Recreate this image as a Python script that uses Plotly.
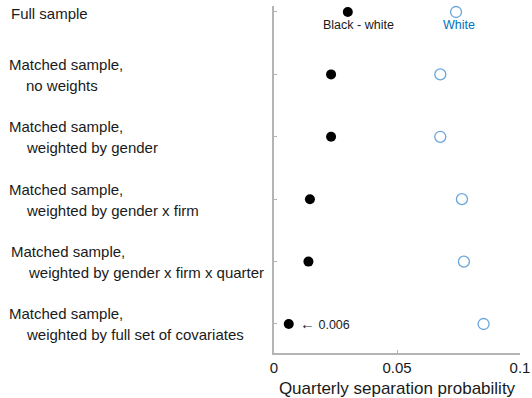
import plotly.graph_objects as go

row_line1 = ["Full sample", "Matched sample,", "Matched sample,", "Matched sample,",
             "Matched sample,", "Matched sample,"]
row_line2 = ["", "no weights", "weighted by gender", "weighted by gender x firm",
             "weighted by gender x firm x quarter", "weighted by full set of covariates"]
black_white = [0.030, 0.0232, 0.0232, 0.0146, 0.0140, 0.006]
white = [0.0740, 0.0676, 0.0676, 0.0764, 0.0772, 0.0852]
x_ticks = [0, 0.05, 0.1]
x_tick_labels = ["0", "0.05", "0.1"]

rows = list(range(len(row_line1)))
FONT = "Liberation Sans, Arial, Helvetica, sans-serif"
AX = "#b4b4b4"

fig = go.Figure()
fig.add_trace(go.Scatter(
    x=black_white, y=rows, mode="markers",
    marker=dict(symbol="circle", size=10, color="black", line=dict(width=0)),
    showlegend=False, hoverinfo="skip", cliponaxis=False))
fig.add_trace(go.Scatter(
    x=white, y=rows, mode="markers",
    marker=dict(symbol="circle-open", size=11, color="#6aa6db", line=dict(width=1.3)),
    showlegend=False, hoverinfo="skip", cliponaxis=False))

ann = []
for i in rows:
    if row_line2[i]:
        ann.append(dict(x=0, y=i, xref="paper", yref="y", text=row_line1[i],
                        xanchor="left", yanchor="middle", showarrow=False,
                        xshift=-267 + (2 if i == 4 else 0), yshift=10,
                        font=dict(size=15, color="#1a1a1a", family=FONT)))
        ann.append(dict(x=0, y=i, xref="paper", yref="y", text=row_line2[i],
                        xanchor="left", yanchor="middle", showarrow=False,
                        xshift=-250 + (2 if i == 4 else 0), yshift=-11,
                        font=dict(size=15, color="#1a1a1a", family=FONT)))
    else:
        ann.append(dict(x=0, y=i, xref="paper", yref="y", text=row_line1[i],
                        xanchor="left", yanchor="middle", showarrow=False,
                        xshift=-265, yshift=-2,
                        font=dict(size=15, color="#1a1a1a", family=FONT)))

ann.append(dict(x=black_white[0], y=0, xref="x", yref="y", text="Black - white",
                xanchor="center", yanchor="middle", showarrow=False,
                xshift=11, yshift=-13,
                font=dict(size=12.5, color="#1a1a1a", family=FONT)))
ann.append(dict(x=white[0], y=0, xref="x", yref="y", text="White",
                xanchor="center", yanchor="middle", showarrow=False,
                xshift=3, yshift=-13,
                font=dict(size=12.5, color="#0072BD", family=FONT)))
ann.append(dict(x=black_white[5], y=5, xref="x", yref="y",
                text="<span style='font-size:15px'>\u2190</span> 0.006",
                xanchor="left", yanchor="middle", showarrow=False,
                xshift=9, yshift=0,
                font=dict(size=12.5, color="#1a1a1a", family=FONT)))

fig.update_layout(
    width=532, height=398,
    margin=dict(l=274, r=12, t=6, b=45, autoexpand=False),
    paper_bgcolor="white", plot_bgcolor="white",
    annotations=ann,
    font=dict(family=FONT, color="#1a1a1a"),
    xaxis=dict(range=[0, 0.1], tickvals=x_ticks, ticktext=x_tick_labels,
               automargin=False,
               showgrid=False, zeroline=False, showline=True, linecolor=AX,
               linewidth=1.5, ticks="inside", ticklen=3, tickcolor=AX,
               tickfont=dict(size=15, family=FONT, color="#1a1a1a"),
               title=dict(text="Quarterly separation probability",
                          font=dict(size=17, family=FONT, color="#1a1a1a"),
                          standoff=8)),
    yaxis=dict(range=[5.465, -0.096], tickvals=rows, showticklabels=False,
               automargin=False,
               showgrid=False, zeroline=False, showline=True, linecolor=AX,
               linewidth=1.5, ticks="inside", ticklen=3, tickcolor=AX),
)

fig.write_html("out.html")
